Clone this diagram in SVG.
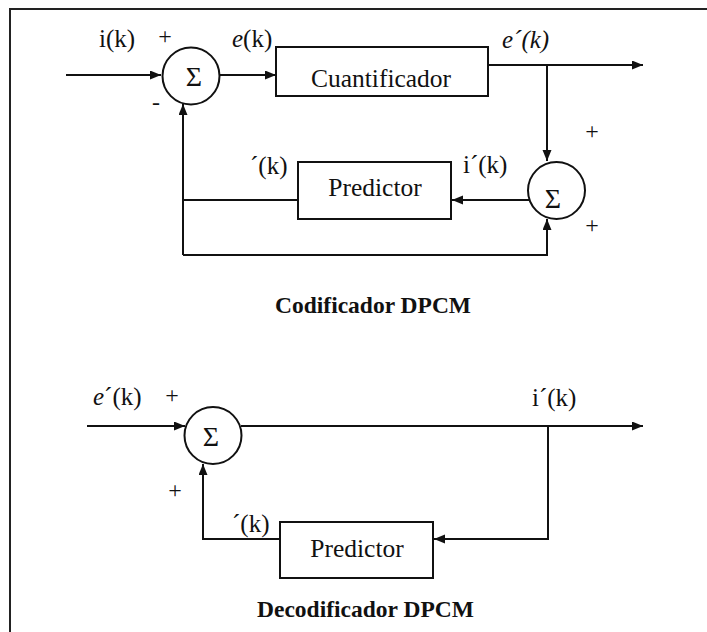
<svg xmlns="http://www.w3.org/2000/svg" width="707" height="632" viewBox="0 0 707 632" font-family="'Liberation Serif', serif">
<defs>
<marker id="arr" markerUnits="userSpaceOnUse" markerWidth="12" markerHeight="10" refX="11" refY="4.5" orient="auto">
<path d="M0,0 L11,4.5 L0,9 Z" fill="#111"/>
</marker>
<style>
text{font-family:'Liberation Serif',serif;fill:#111}
.lbl{font-size:25px}
.box{fill:#fff;stroke:#111;stroke-width:2}
.sum{fill:#fff;stroke:#111;stroke-width:2}
.sig{font-size:28px;text-anchor:middle}
.blk{font-size:25.5px;text-anchor:middle}
.ttl{font-size:23.5px;font-weight:bold}
.pm{font-size:24px;text-anchor:middle}
.c{fill:none;stroke:#111;stroke-width:2}
.a{marker-end:url(#arr)}
</style>
</defs>
<g id="frame"><path d="M10,632 V9 H707" fill="none" stroke="#222" stroke-width="2"/></g>
<g id="connectors">
<path class="c a" d="M66,75 H161"/>
<path class="c a" d="M220,75 H276"/>
<path class="c a" d="M488,65 H643"/>
<path class="c a" d="M547,65 V161"/>
<path class="c a" d="M529,200 H452"/>
<path class="c" d="M298,200 H183"/>
<path class="c a" d="M183,255 V104"/>
<path class="c a" d="M183,255 H547 V219"/>
<path class="c a" d="M87,426 H185"/>
<path class="c a" d="M241,426 H643"/>
<path class="c a" d="M548,426 V539 H434"/>
<path class="c a" d="M280,539 H203 V464"/>
</g>
<g id="sum1"><circle class="sum" cx="191" cy="76" r="28.5"/><text class="sig" x="194" y="86">Σ</text></g>
<g id="cuantificador"><rect class="box" x="276" y="47" width="212" height="49"/><text class="blk" x="381" y="87">Cuantificador</text></g>
<g id="sum2"><circle class="sum" cx="556.5" cy="190.5" r="28.5"/><text class="sig" x="553" y="208">Σ</text></g>
<g id="predictor1"><rect class="box" x="298" y="162" width="153" height="57"/><text class="blk" x="375" y="196">Predictor</text></g>
<g id="sum3"><circle class="sum" cx="213" cy="435.5" r="28.5"/><text class="sig" x="211" y="446">Σ</text></g>
<g id="predictor2"><rect class="box" x="280" y="522" width="153" height="56"/><text class="blk" x="357" y="557">Predictor</text></g>
<g id="labels">
<text class="lbl" x="99" y="47">i(k)</text>
<text class="pm" x="165" y="44">+</text>
<text class="pm" x="156" y="110">-</text>
<text class="lbl" x="232" y="47"><tspan font-style="italic">e</tspan>(k)</text>
<text class="lbl" x="502" y="48" font-style="italic">e´(k)</text>
<text class="pm" x="592" y="139">+</text>
<text class="lbl" x="250" y="174">´(k)</text>
<text class="lbl" x="463" y="173">i´(k)</text>
<text class="pm" x="592" y="233">+</text>
<text class="ttl" x="275" y="313">Codificador DPCM</text>
<text class="lbl" x="93" y="405"><tspan font-style="italic">e</tspan>´(k)</text>
<text class="pm" x="172" y="403">+</text>
<text class="lbl" x="532" y="406">i´(k)</text>
<text class="pm" x="175" y="498">+</text>
<text class="lbl" x="232" y="532">´(k)</text>
<text class="ttl" x="257" y="617">Decodificador DPCM</text>
</g>
</svg>
